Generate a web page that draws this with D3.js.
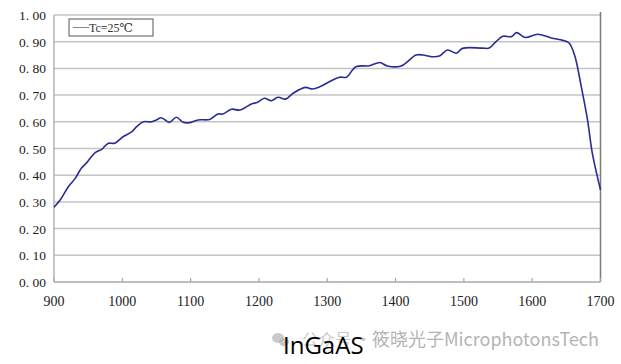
<!DOCTYPE html>
<html>
<head>
  <meta charset="utf-8">
  <title>InGaAS</title>
  <script src="https://d3js.org/d3.v7.min.js"></script>
  <style>
    body { margin: 0; background: #fff; }
    svg text { font-family: "Liberation Serif", "DejaVu Serif", serif; }
  </style>
</head>
<body>
<div id="chart"></div>
<script>
// wavelength (nm) and relative response
var wavelength = [900, 909, 921, 931, 940, 948, 960, 970, 979, 989, 1001, 1014, 1021, 1031, 1043, 1050, 1057,
  1069, 1079, 1089, 1099, 1111, 1128, 1140, 1147, 1160, 1172, 1189, 1198, 1208, 1218, 1228, 1239, 1250,
  1268, 1278, 1289, 1303, 1318, 1328, 1342, 1362, 1377, 1388, 1408, 1430, 1440, 1452, 1464, 1476, 1489,
  1498, 1527, 1537, 1547, 1557, 1570, 1577, 1590, 1608, 1628, 1645, 1654, 1662, 1672, 1681, 1688, 1700];
var response = [0.280, 0.307, 0.357, 0.388, 0.426, 0.447, 0.484, 0.497, 0.519, 0.520, 0.544, 0.563, 0.582, 0.600, 0.600, 0.607, 0.615,
  0.598, 0.617, 0.598, 0.597, 0.607, 0.609, 0.629, 0.629, 0.647, 0.644, 0.667, 0.673, 0.688, 0.679, 0.692, 0.685, 0.707,
  0.729, 0.723, 0.731, 0.750, 0.767, 0.767, 0.806, 0.810, 0.822, 0.809, 0.809, 0.850, 0.850, 0.844, 0.846, 0.869, 0.857,
  0.875, 0.876, 0.876, 0.900, 0.920, 0.919, 0.934, 0.916, 0.928, 0.914, 0.905, 0.895, 0.850, 0.730, 0.607, 0.483, 0.345];
var xTicks = [900, 1000, 1100, 1200, 1300, 1400, 1500, 1600, 1700];
var yTicks = [0, 0.1, 0.2, 0.3, 0.4, 0.5, 0.6, 0.7, 0.8, 0.9, 1.0];
var legendLabel = "Tc=25\u2103";

var W = 621, H = 364;
var svg = d3.select("#chart").append("svg").attr("width", W).attr("height", H);

var x = d3.scaleLinear().domain([900, 1700]).range([54, 600.5]);
var y = d3.scaleLinear().domain([0, 1]).range([282, 15]);

// grid lines
svg.selectAll("line.grid").data(yTicks.slice(1)).enter().append("line")
  .attr("x1", x(900)).attr("x2", x(1700))
  .attr("y1", d => y(d)).attr("y2", d => y(d))
  .attr("stroke", "#c4c4c4").attr("stroke-width", 1.5);

// y labels
svg.selectAll("text.ylab").data(yTicks).enter().append("text")
  .attr("x", 46).attr("y", d => y(d) + 5)
  .attr("text-anchor", "end").attr("font-size", 13.5).attr("fill", "#222")
  .text(d => d3.format(".2f")(d).replace(".", ". "));

// axes and right border
svg.append("line").attr("x1", x(900)).attr("x2", x(1700)).attr("y1", y(0)).attr("y2", y(0))
  .attr("stroke", "#a8a8a8").attr("stroke-width", 1.3);
svg.append("line").attr("x1", x(900)).attr("x2", x(900)).attr("y1", y(1)).attr("y2", y(0))
  .attr("stroke", "#a8a8a8").attr("stroke-width", 1.3);
svg.append("line").attr("x1", x(1700)).attr("x2", x(1700)).attr("y1", 12).attr("y2", y(0))
  .attr("stroke", "#7a7a7a").attr("stroke-width", 1.5);
svg.selectAll("line.xt").data(xTicks).enter().append("line")
  .attr("x1", d => x(d)).attr("x2", d => x(d))
  .attr("y1", y(0)).attr("y2", y(0) - 4)
  .attr("stroke", "#a8a8a8").attr("stroke-width", 1.2);
svg.selectAll("text.xlab").data(xTicks).enter().append("text")
  .attr("x", d => x(d)).attr("y", 306)
  .attr("text-anchor", "middle").attr("font-size", 14).attr("fill", "#222")
  .text(d => d);

// curve
var pts = wavelength.map((w, i) => [w, response[i]]);
svg.append("path").datum(pts)
  .attr("d", d3.line().x(d => x(d[0])).y(d => y(d[1])).curve(d3.curveCatmullRom.alpha(0.5)))
  .attr("fill", "none").attr("stroke", "#2b2b96").attr("stroke-width", 1.6);

// legend
svg.append("rect").attr("x", 69).attr("y", 19).attr("width", 84).attr("height", 17)
  .attr("fill", "#fff").attr("stroke", "#555").attr("stroke-width", 1);
svg.append("line").attr("x1", 73).attr("x2", 89).attr("y1", 27.5).attr("y2", 27.5)
  .attr("stroke", "#888").attr("stroke-width", 1);
svg.append("text").attr("x", 89).attr("y", 32).attr("font-size", 12).attr("fill", "#333")
  .text(legendLabel);

// watermark
var cjk = "'Noto Sans CJK SC', 'Noto Sans', sans-serif";
var wm = svg.append("g").attr("fill", "#b4b4b4");
wm.append("ellipse").attr("cx", 278).attr("cy", 338).attr("rx", 6).attr("ry", 5).attr("opacity", 0.7);
wm.append("ellipse").attr("cx", 284).attr("cy", 342).attr("rx", 5).attr("ry", 4.2).attr("opacity", 0.7);
wm.append("text").attr("x", 302).attr("y", 346).attr("font-size", 16.5)
  .style("font-family", cjk).attr("opacity", 0.7).text("公众号 ·");
wm.append("text").attr("x", 372).attr("y", 346).attr("font-size", 18)
  .style("font-family", cjk).text("筱晓光子MicrophotonsTech");

// title
svg.append("text").attr("x", 283).attr("y", 354)
  .attr("font-size", 24).attr("fill", "#000")
  .style("font-family", "'Open Sans', sans-serif")
  .text("InGaAS");
</script>
</body>
</html>
